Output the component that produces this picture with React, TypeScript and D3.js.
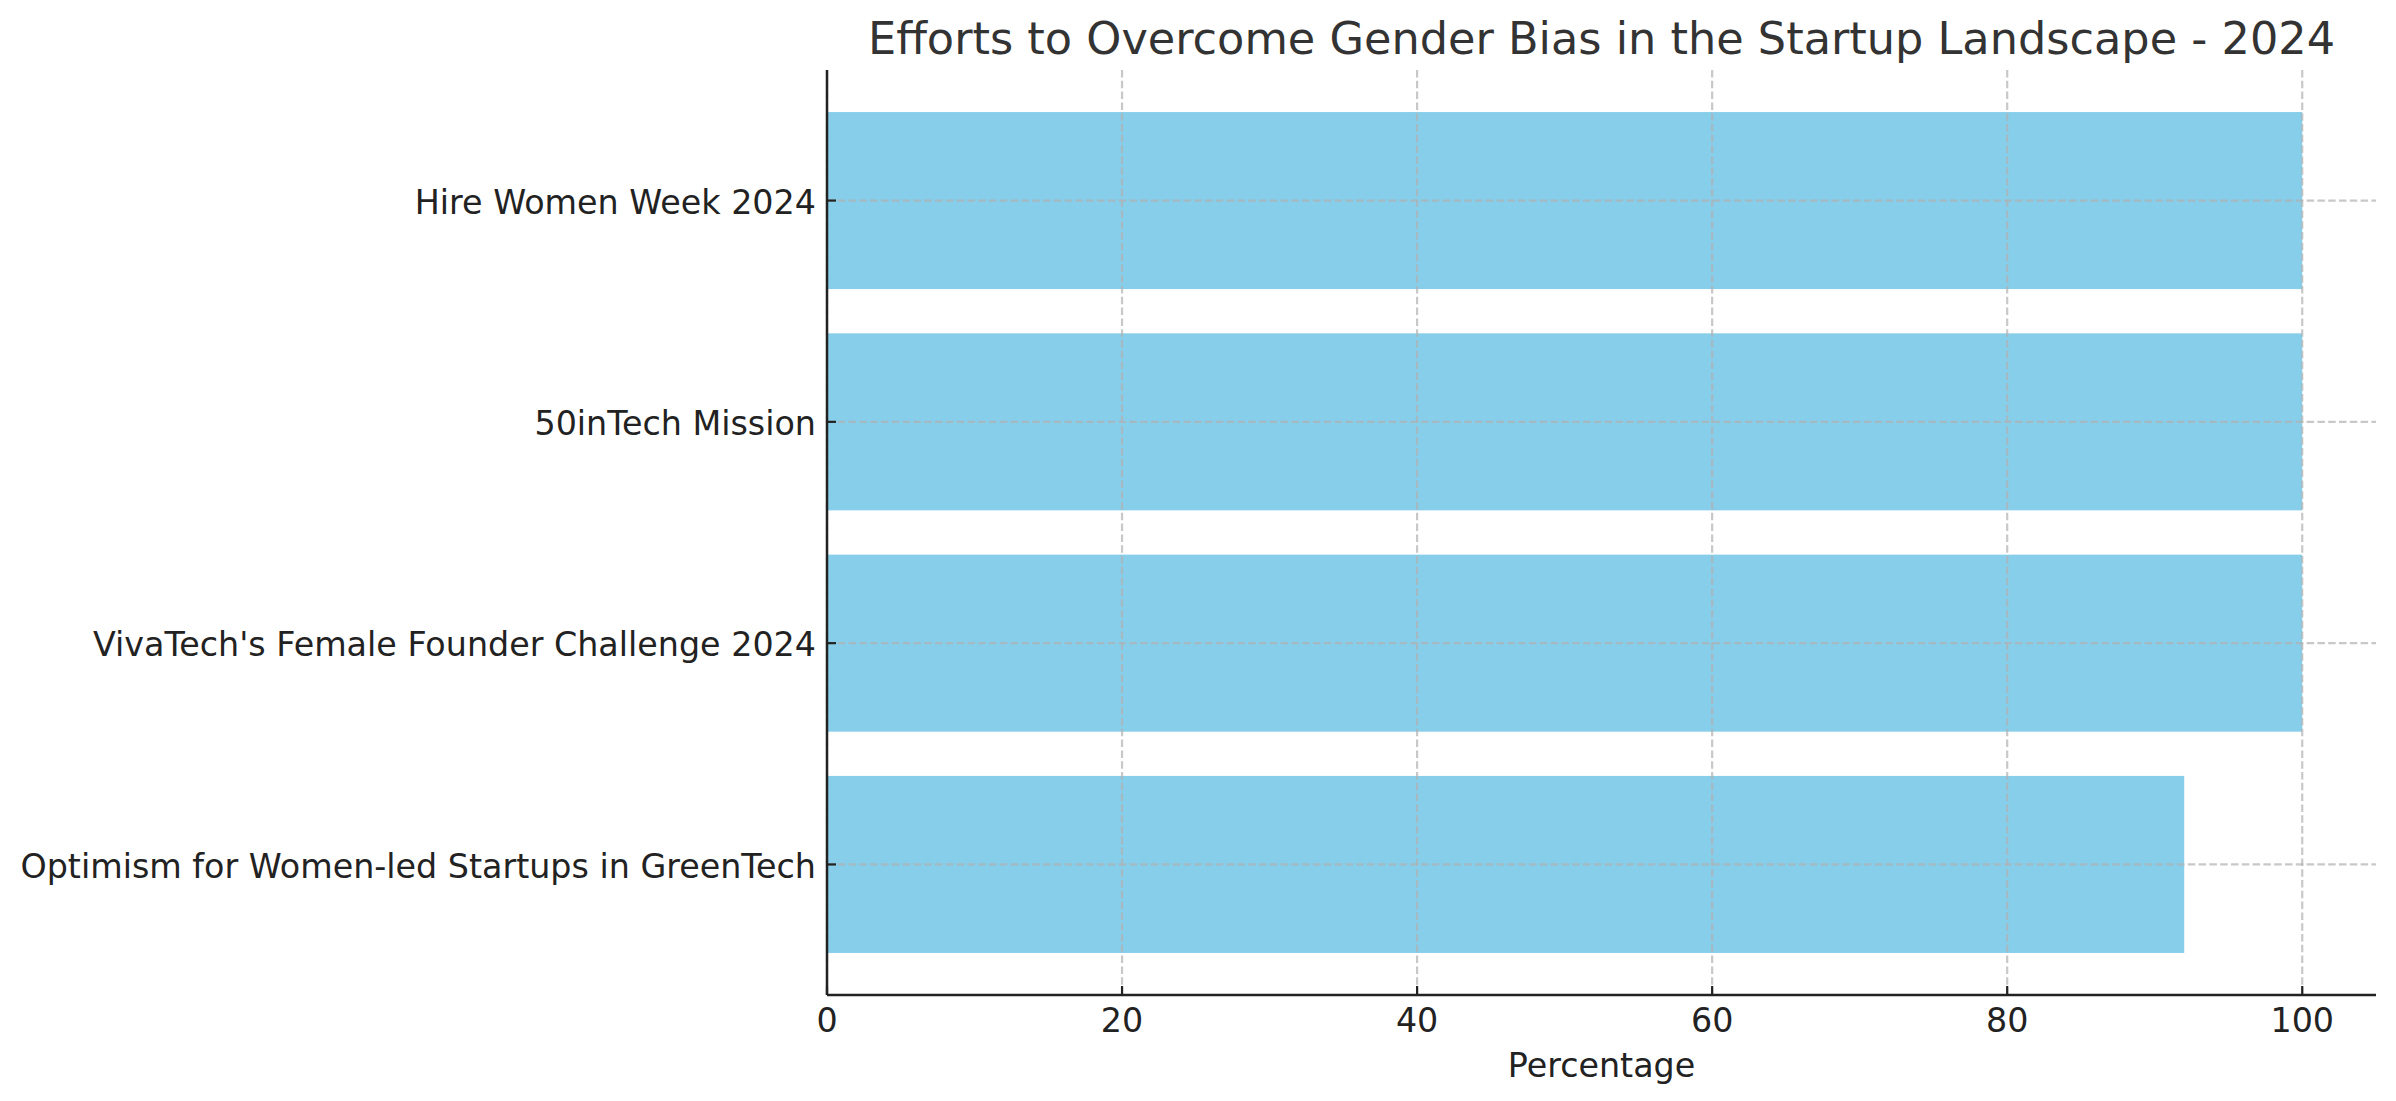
import React from 'react';
import * as d3 from 'd3';

// Chart data
const initiatives = [
  'Optimism for Women-led Startups in GreenTech',
  "VivaTech's Female Founder Challenge 2024",
  '50inTech Mission',
  'Hire Women Week 2024',
];
const percentages = [92, 100, 100, 100];
const xTicks = [0, 20, 40, 60, 80, 100];

const W = 2396;
const H = 1101;
const margin = { top: 70, right: 20, bottom: 106, left: 827 };
const font = '"DejaVu Sans", sans-serif';

export default function App(): JSX.Element {
  const plotW = W - margin.left - margin.right;
  const plotH = H - margin.top - margin.bottom;

  const x = d3.scaleLinear().domain([0, 105]).range([0, plotW]);
  // matplotlib-style: bars at integer positions, height 0.8, 5% margins
  const y = d3.scaleLinear().domain([-0.59, 3.59]).range([plotH, 0]);
  const barH = y(0) - y(0.8);

  const grid = {
    stroke: '#b0b0b0',
    strokeOpacity: 0.7,
    strokeWidth: 2.2,
    strokeDasharray: '7.5,3.3',
  };

  return (
    <div style={{ position: 'absolute', left: 0, top: 0 }}>
      <svg width={W} height={H} style={{ display: 'block', background: '#fff' }}>
        <g transform={`translate(${margin.left},${margin.top})`}>
          {/* bars */}
          {initiatives.map((name, i) => (
            <rect
              key={name}
              x={x(0)}
              y={y(i) - barH / 2}
              width={x(percentages[i]) - x(0)}
              height={barH}
              fill="#87CEEB"
            />
          ))}

          {/* grid on top of bars */}
          {xTicks.map(t => (
            <line key={'gx' + t} x1={x(t)} x2={x(t)} y1={0} y2={plotH} {...grid} />
          ))}
          {initiatives.map((name, i) => (
            <line key={'gy' + name} x1={0} x2={plotW} y1={y(i)} y2={y(i)} {...grid} />
          ))}

          {/* x axis */}
          <line x1={0} x2={plotW} y1={plotH} y2={plotH} stroke="#222" strokeWidth={2.5} />
          {xTicks.map(t => (
            <g key={'tx' + t} transform={`translate(${x(t)},${plotH})`}>
              <line y1={0} y2={-9} stroke="#222" strokeWidth={2.2} />
              <text
                y={37}
                textAnchor="middle"
                fontFamily={font}
                fontSize={33.33}
                fill="#222"
              >
                {t}
              </text>
            </g>
          ))}

          {/* y axis */}
          <line x1={0} x2={0} y1={0} y2={plotH} stroke="#222" strokeWidth={2.5} />
          {initiatives.map((name, i) => (
            <g key={'ty' + name} transform={`translate(0,${y(i)})`}>
              <line x1={0} x2={9} stroke="#222" strokeWidth={2.2} />
              <text
                x={-11}
                dy="0.4em"
                textAnchor="end"
                fontFamily={font}
                fontSize={33.33}
                fill="#222"
              >
                {name}
              </text>
            </g>
          ))}

          {/* labels */}
          <text
            x={plotW / 2}
            y={plotH + 82}
            textAnchor="middle"
            fontFamily={font}
            fontSize={33.33}
            fill="#222"
          >
            Percentage
          </text>
          <text
            x={plotW / 2}
            y={-16}
            textAnchor="middle"
            fontFamily={font}
            fontSize={44.6}
            fill="#333"
          >
            Efforts to Overcome Gender Bias in the Startup Landscape - 2024
          </text>
        </g>
      </svg>
    </div>
  );
}
